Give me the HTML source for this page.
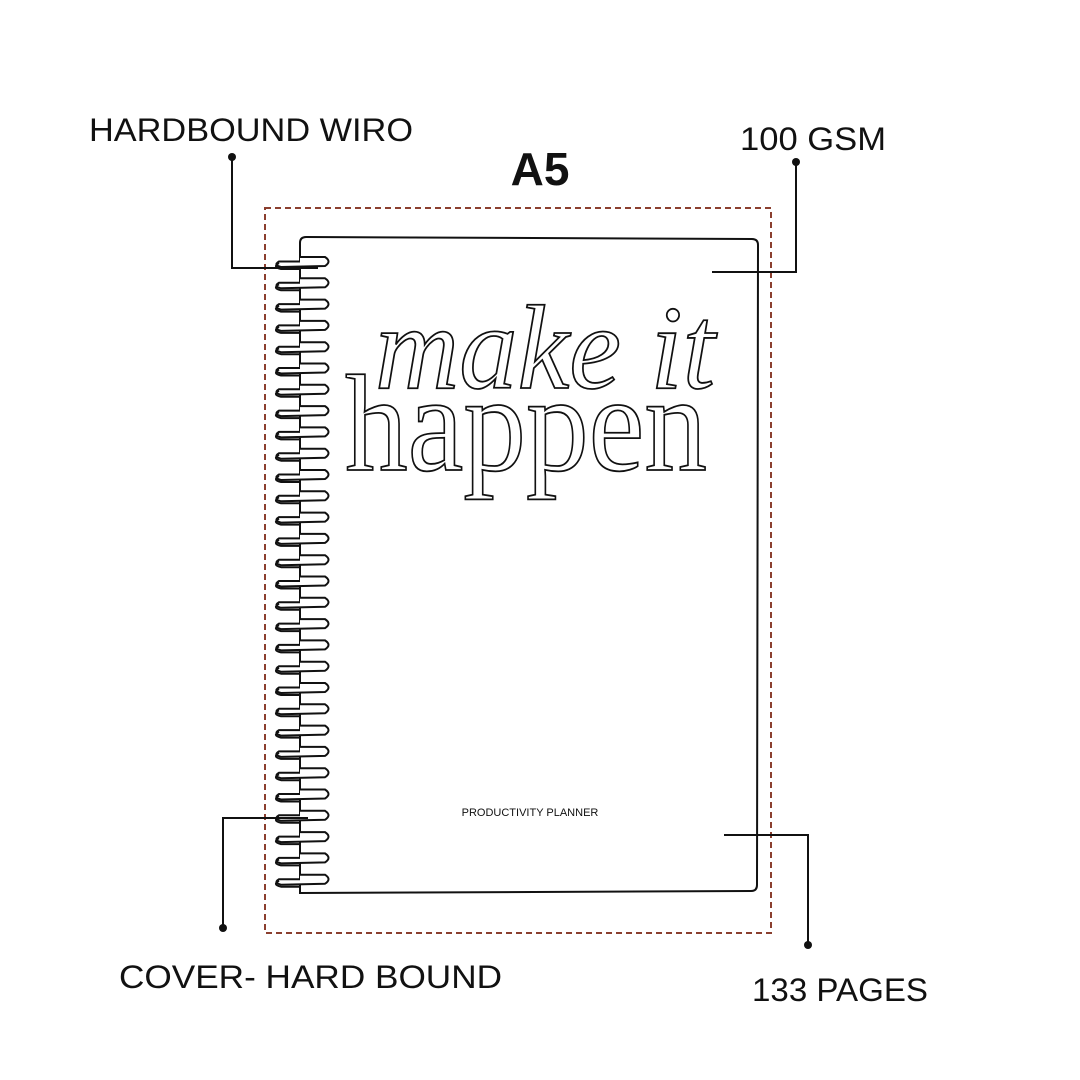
<!DOCTYPE html>
<html><head><style>
html,body{margin:0;padding:0;background:#fff;}
svg{display:block}
</style></head><body>
<svg width="1080" height="1080" viewBox="0 0 1080 1080" xmlns="http://www.w3.org/2000/svg">
<rect width="1080" height="1080" fill="#fff"/>
<rect x="265" y="208" width="506" height="725" fill="none" stroke="#8b3f2f" stroke-width="2" stroke-dasharray="6,4"/>
<path d="M300,893 L300,243 Q300,237 306,237 L752,239 Q758,239 758,245 L757,885 Q757,891 751,891 Z" fill="#fff" stroke="#111" stroke-width="2"/>
<g id="sp" fill="#fff" stroke="#111" stroke-width="2">
</g>
<g font-family="Liberation Serif, serif" fill="#fff" stroke="#111" stroke-width="1.8">
<text x="375" y="388" font-size="120" font-style="italic" textLength="340" lengthAdjust="spacingAndGlyphs">make it</text>
<text x="345" y="470" font-size="138" textLength="362" lengthAdjust="spacingAndGlyphs">happen</text>
</g>
<text x="530" y="816" font-family="Liberation Sans, sans-serif" font-size="11" text-anchor="middle" fill="#111">PRODUCTIVITY PLANNER</text>
<text x="540" y="185" font-family="Liberation Sans, sans-serif" font-size="46" font-weight="bold" text-anchor="middle" fill="#111">A5</text>
<g font-family="Liberation Sans, sans-serif" font-size="32" fill="#111">
<text x="89" y="141" textLength="324" lengthAdjust="spacingAndGlyphs">HARDBOUND WIRO</text>
<text x="740" y="150" textLength="146" lengthAdjust="spacingAndGlyphs">100 GSM</text>
<text x="119" y="988" textLength="383" lengthAdjust="spacingAndGlyphs">COVER- HARD BOUND</text>
<text x="752" y="1001" textLength="176" lengthAdjust="spacingAndGlyphs">133 PAGES</text>
</g>
<g stroke="#111" stroke-width="2" fill="none">
<polyline points="232,157 232,268 318,268"/>
<polyline points="796,162 796,272 712,272"/>
<polyline points="223,928 223,818 308,818"/>
<polyline points="808,945 808,835 724,835"/>
</g>
<g fill="#111">
<circle cx="232" cy="157" r="4"/><circle cx="796" cy="162" r="4"/>
<circle cx="223" cy="928" r="4"/><circle cx="808" cy="945" r="4"/>
</g>
</svg>
<script>
var g=document.getElementById('sp'),s='';
for(var i=0;i<30;i++){var y=257+i*21.3;
s+='<path d="M300,'+y+' L325,'+y+' Q332,'+(y+4.5)+' 325,'+(y+9)+' L281,'+(y+10)+' Q273,'+(y+8)+' 279,'+(y+4.5)+' L300,'+(y+4.5)+'" />';
s+='<path d="M279,'+(y+6)+' Q272,'+(y+10)+' 281,'+(y+12)+' L300,'+(y+12)+'" fill="none"/>';}
g.innerHTML=s;
</script>
</body></html>
